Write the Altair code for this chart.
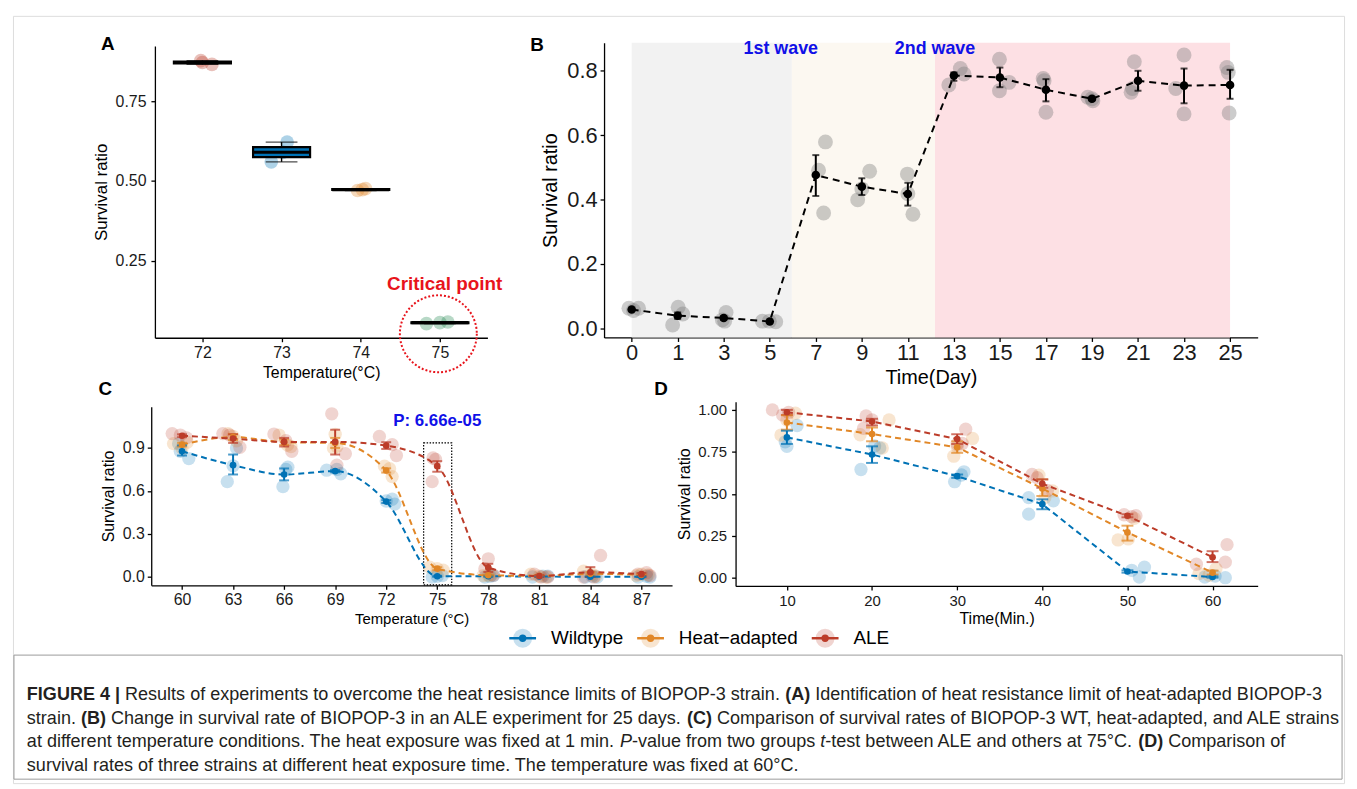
import json
import pandas as pd
import altair as alt

FONT = "Liberation Sans"
W, H = 1341, 773

# ---------------- Panel A : heat resistance limit ----------------
a_temps = ["72", "73", "74", "75"]
a_rep1 = [0.866, 0.560, 0.470, 0.052]
a_rep2 = [0.872, 0.590, 0.473, 0.055]
a_rep3 = [0.878, 0.622, 0.476, 0.057]
a_jit1 = [0.12, -0.13, -0.04, -0.17]
a_jit2 = [0.00, 0.02, 0.02, 0.00]
a_jit3 = [-0.02, 0.07, 0.06, 0.10]
a_colors = ["#BC3C29", "#0072B5", "#E18727", "#20854E"]

# ---------------- Panel B : ALE experiment ----------------
b_days = ["0", "1", "3", "5", "7", "9", "11", "13", "15", "17", "19", "21", "23", "25"]
b_mean = [0.058, 0.039, 0.032, 0.021, 0.476, 0.440, 0.417, 0.785, 0.779, 0.741, 0.713, 0.769, 0.754, 0.756]
b_lo = [0.055, 0.029, 0.026, 0.019, 0.411, 0.414, 0.381, 0.769, 0.749, 0.705, 0.708, 0.738, 0.699, 0.713]
b_hi = [0.061, 0.049, 0.038, 0.023, 0.538, 0.466, 0.452, 0.795, 0.810, 0.774, 0.718, 0.800, 0.807, 0.803]
b_rep1 = [0.062, 0.010, 0.049, 0.022, 0.579, 0.488, 0.479, 0.807, 0.836, 0.776, 0.718, 0.828, 0.849, 0.810]
b_rep2 = [0.062, 0.065, 0.026, 0.020, 0.491, 0.399, 0.354, 0.756, 0.738, 0.671, 0.707, 0.733, 0.666, 0.669]
b_rep3 = [0.055, 0.044, 0.022, 0.022, 0.358, 0.433, 0.418, 0.790, 0.764, 0.769, 0.713, 0.745, 0.745, 0.795]
b_jit1 = [-0.06, -0.11, 0.05, -0.16, 0.21, 0.17, -0.01, 0.14, -0.01, -0.06, -0.09, -0.08, 0.00, -0.07]
b_jit2 = [0.15, 0.01, -0.03, 0.13, 0.06, -0.09, 0.11, -0.11, -0.01, 0.00, 0.02, -0.15, 0.00, -0.02]
b_jit3 = [0.04, 0.11, 0.02, -0.01, 0.17, 0.00, 0.00, 0.22, 0.20, -0.04, 0.00, -0.12, -0.18, -0.04]
b_phase_start = [0.0, 3.48, 6.59]
b_phase_end = [3.48, 6.59, 13.0]
b_phase_colors = ["#f2f2f2", "#fcf8f1", "#fde0e4"]
b_wave_labels = ["1st wave", "2nd wave"]
b_wave_x = [3.24, 6.59]
b_wave_y = [0.867, 0.867]

# ---------------- Panels C and D : strains ----------------
strains = ["Wildtype", "Heat\u2212adapted", "ALE"]
strain_colors = ["#0072B5", "#E18727", "#BC3C29"]

c_temps = [60, 63, 66, 69, 72, 75, 78, 81, 84, 87]
c_wt_mean = [0.877, 0.780, 0.715, 0.738, 0.526, 0.005, 0.005, 0.003, 0.002, 0.002]
c_wt_lo = [0.847, 0.715, 0.674, 0.730, 0.516, 0.001, 0.001, 0.000, 0.000, 0.000]
c_wt_hi = [0.918, 0.854, 0.757, 0.746, 0.536, 0.009, 0.009, 0.006, 0.004, 0.004]
c_wt_rep1 = [0.826, 0.665, 0.630, 0.745, 0.530, 0.000, 0.000, 0.000, 0.000, 0.000]
c_wt_rep2 = [0.877, 0.775, 0.750, 0.720, 0.508, 0.005, 0.005, 0.005, 0.000, 0.005]
c_wt_rep3 = [0.930, 0.900, 0.766, 0.750, 0.542, 0.010, 0.010, 0.005, 0.005, 0.000]
c_wt_jit1 = [0.40, -0.34, -0.07, -0.50, 0.00, -0.30, -0.20, -0.40, -0.30, -0.20]
c_wt_jit2 = [-0.10, 0.00, 0.10, 0.33, 0.50, 0.00, 0.10, 0.20, 0.40, 0.30]
c_wt_jit3 = [-0.20, 0.20, 0.22, 0.10, 0.35, 0.30, 0.30, 0.50, 0.10, 0.50]

c_ha_mean = [0.923, 0.976, 0.940, 0.935, 0.743, 0.058, 0.012, 0.008, 0.022, 0.015]
c_ha_lo = [0.910, 0.955, 0.920, 0.900, 0.728, 0.048, 0.008, 0.004, 0.012, 0.010]
c_ha_hi = [0.936, 0.997, 0.960, 0.970, 0.758, 0.068, 0.016, 0.012, 0.032, 0.020]
c_ha_rep1 = [0.930, 1.000, 0.990, 0.995, 0.773, 0.069, 0.010, 0.020, 0.040, 0.020]
c_ha_rep2 = [0.900, 0.980, 0.920, 0.900, 0.700, 0.058, 0.015, 0.005, 0.020, 0.015]
c_ha_rep3 = [0.940, 0.950, 0.910, 0.910, 0.755, 0.047, 0.010, 0.000, 0.005, 0.010]
c_ha_jit1 = [-0.50, -0.30, -0.30, 0.00, -0.10, -0.45, -0.30, -0.50, -0.40, 0.00]
c_ha_jit2 = [0.00, 0.00, 0.20, -0.10, 0.35, 0.00, 0.20, 0.00, 0.10, 0.40]
c_ha_jit3 = [0.30, 0.20, 0.40, 0.10, 0.20, 0.35, 0.00, 0.40, 0.30, -0.30]

c_ale_mean = [0.985, 0.965, 0.942, 0.942, 0.916, 0.773, 0.065, 0.007, 0.033, 0.020]
c_ale_lo = [0.975, 0.935, 0.910, 0.854, 0.893, 0.734, 0.035, 0.000, 0.000, 0.012]
c_ale_hi = [0.995, 0.995, 0.970, 1.027, 0.940, 0.808, 0.092, 0.014, 0.069, 0.028]
c_ale_rep1 = [1.000, 1.000, 0.997, 1.138, 0.980, 0.820, 0.127, 0.020, 0.150, 0.030]
c_ale_rep2 = [0.990, 0.990, 0.877, 0.860, 0.923, 0.830, 0.058, 0.000, 0.000, 0.020]
c_ale_rep3 = [0.970, 0.905, 0.950, 0.780, 0.847, 0.665, 0.012, 0.000, 0.000, 0.010]
c_ale_jit1 = [-0.58, -0.60, -0.60, -0.20, -0.40, -0.10, 0.00, -0.30, 0.60, 0.30]
c_ale_jit2 = [-0.10, -0.20, 0.45, 0.60, 0.35, -0.25, -0.20, 0.10, -0.40, -0.20]
c_ale_jit3 = [0.26, 0.40, 0.10, 0.10, 0.60, -0.30, 0.30, 0.50, 0.20, 0.50]
c_pvalue_text = "P: 6.66e-05"

d_times = [10, 20, 30, 40, 50, 60]
d_wt_mean = [0.836, 0.734, 0.605, 0.438, 0.037, 0.004]
d_wt_lo = [0.797, 0.684, 0.595, 0.408, 0.030, 0.000]
d_wt_hi = [0.876, 0.783, 0.615, 0.467, 0.044, 0.008]
d_wt_rep1 = [0.907, 0.645, 0.572, 0.379, 0.063, 0.000]
d_wt_rep2 = [0.783, 0.773, 0.631, 0.477, 0.004, 0.004]
d_wt_rep3 = [0.810, 0.785, 0.612, 0.458, 0.044, 0.010]
d_wt_jit1 = [1.2, -1.3, -0.3, -1.6, 2.0, 1.5]
d_wt_jit2 = [0.0, 0.9, 0.8, -1.6, 1.4, -0.9]
d_wt_jit3 = [-0.2, 0.3, 0.5, 1.3, 0.5, 0.3]

d_ha_mean = [0.925, 0.856, 0.777, 0.532, 0.270, 0.030]
d_ha_lo = [0.882, 0.813, 0.744, 0.487, 0.221, 0.018]
d_ha_hi = [0.968, 0.895, 0.813, 0.586, 0.310, 0.042]
d_ha_rep1 = [0.980, 0.940, 0.724, 0.611, 0.225, 0.024]
d_ha_rep2 = [0.850, 0.852, 0.780, 0.517, 0.231, 0.014]
d_ha_rep3 = [0.940, 0.773, 0.830, 0.477, 0.354, 0.053]
d_ha_jit1 = [1.0, 2.0, -0.4, -0.4, -1.1, -1.6]
d_ha_jit2 = [-0.7, -1.4, 0.0, 1.2, 0.1, -0.4]
d_ha_jit3 = [0.0, 1.2, 1.8, 0.3, 0.8, 0.4]

d_ale_mean = [0.986, 0.931, 0.826, 0.560, 0.369, 0.122]
d_ale_lo = [0.970, 0.907, 0.797, 0.536, 0.360, 0.093]
d_ale_hi = [1.000, 0.947, 0.855, 0.586, 0.378, 0.158]
d_ale_rep1 = [1.000, 0.964, 0.885, 0.615, 0.375, 0.197]
d_ale_rep2 = [0.970, 0.940, 0.800, 0.596, 0.369, 0.093]
d_ale_rep3 = [0.985, 0.890, 0.795, 0.520, 0.363, 0.080]
d_ale_jit1 = [-1.7, -0.7, 1.0, -1.2, -0.4, 1.7]
d_ale_jit2 = [-0.5, 0.0, 0.6, -0.6, 1.0, 1.5]
d_ale_jit3 = [0.2, -1.0, 0.0, 0.6, 0.5, -1.9]

# ---------------- Caption ----------------
caption_lines = [
    [("FIGURE 4 |", "b"), (" Results of experiments to overcome the heat resistance limits of BIOPOP-3 strain. ", "n"),
     ("(A)", "b"), (" Identification of heat resistance limit of heat-adapted BIOPOP-3", "n")],
    [("strain. ", "n"), ("(B)", "b"), (" Change in survival rate of BIOPOP-3 in an ALE experiment for 25 days. ", "n"),
     ("(C)", "b"), (" Comparison of survival rates of BIOPOP-3 WT, heat-adapted, and ALE strains", "n")],
    [("at different temperature conditions. The heat exposure was fixed at 1 min. ", "n"), ("P", "i"),
     ("-value from two groups ", "n"), ("t", "i"), ("-test between ALE and others at 75\u00b0C. ", "n"),
     ("(D)", "b"), (" Comparison of", "n")],
    [("survival rates of three strains at different heat exposure time. The temperature was fixed at 60\u00b0C.", "n")],
]

# ---------------- text metrics (Arial-compatible, per 1000 em) ----------------
AR = {' ': 278, '(': 333, ')': 333, ',': 278, '-': 333, '.': 278, ':': 278, '|': 260, '\u00b0': 400, '\u2212': 584,
      'A': 667, 'B': 667, 'C': 722, 'D': 722, 'E': 667, 'F': 611, 'G': 778, 'H': 722, 'I': 278, 'J': 500, 'K': 667,
      'L': 556, 'M': 833, 'N': 722, 'O': 778, 'P': 667, 'Q': 778, 'R': 722, 'S': 667, 'T': 611, 'U': 722, 'V': 667,
      'W': 944, 'X': 667, 'Y': 667, 'Z': 611,
      'a': 556, 'b': 556, 'c': 500, 'd': 556, 'e': 556, 'f': 278, 'g': 556, 'h': 556, 'i': 222, 'j': 222, 'k': 500,
      'l': 222, 'm': 833, 'n': 556, 'o': 556, 'p': 556, 'q': 556, 'r': 333, 's': 500, 't': 278, 'u': 556, 'v': 500,
      'w': 722, 'x': 500, 'y': 500, 'z': 500}
AB = {' ': 278, '(': 333, ')': 333, '|': 280, '4': 556, 'A': 722, 'B': 722, 'C': 722, 'D': 722, 'E': 667, 'F': 611,
      'G': 778, 'I': 278, 'R': 722, 'U': 722}


def em(s, bold=False):
    tot = 0
    for ch in s:
        if bold and ch in AB:
            tot += AB[ch]
        else:
            tot += AR.get(ch, 556)
    return tot / 1000.0


# ---------------- helpers ----------------
def axis(orient, offset, values, title, lsize, tsize, lpad, tpad, fmt=None, lexpr=None):
    kw = dict(orient=orient, offset=offset, values=values, title=title,
              labelFontSize=lsize, titleFontSize=tsize, labelPadding=lpad, titlePadding=tpad,
              grid=False, labelFlush=False, labelOverlap=False, labelBound=False,
              domainColor="black", domainWidth=1.3, tickColor="black", tickWidth=1.3, tickSize=4,
              labelColor="#1a1a1a", titleColor="black", labelFont=FONT, titleFont=FONT,
              titleFontWeight="normal")
    if fmt:
        kw["format"] = fmt
    if lexpr:
        kw["labelExpr"] = lexpr
    return alt.Axis(**kw)


def scale(domain, rng):
    return alt.Scale(domain=domain, range=rng, nice=False, zero=False)


COL = alt.Color("col:N", scale=None)

# ================= Panel A =================
A_XS = scale([-0.6, 3.6], [143, 478])
A_YS = scale([0.0075, 0.924], [324.3, 30.3])
A_XA = axis("bottom", 324.3 - H, [0, 1, 2, 3], "Temperature(\u00b0C)", 16, 16, 3, 4,
            lexpr=json.dumps(a_temps) + "[datum.value]")
A_YA = axis("left", -143, [0.25, 0.5, 0.75], "Survival ratio", 16, 17, 5, 5, fmt=".2f")


def AX(f):
    return alt.X(f, scale=A_XS, axis=A_XA)


def AY(f):
    return alt.Y(f, scale=A_YS, axis=A_YA)


a_rows = []
for i, t in enumerate(a_temps):
    for reps, jits in ((a_rep1, a_jit1), (a_rep2, a_jit2), (a_rep3, a_jit3)):
        a_rows.append(dict(idx=i, temp=t, xj=i + jits[i], v=reps[i], col=a_colors[i]))
a_df = pd.DataFrame(a_rows)
a_base = alt.Chart(a_df)
a_stats = a_base.transform_aggregate(
    lo="min(v)", q1="q1(v)", med="median(v)", q3="q3(v)", hi="max(v)", groupby=["idx", "col"]
).transform_calculate(xl="datum.idx - 0.36", xr="datum.idx + 0.36")

a_pts = a_base.mark_circle(size=190, opacity=0.32).encode(x=AX("xj:Q"), y=AY("v:Q"), color=COL)
a_whisk = a_stats.mark_rule(color="black", strokeWidth=1.4).encode(x=AX("idx:Q"), y=AY("lo:Q"), y2="hi:Q")
a_cap1 = a_stats.mark_tick(orient="horizontal", color="black", size=32, thickness=1.4).encode(
    x=AX("idx:Q"), y=AY("lo:Q"))
a_cap2 = a_stats.mark_tick(orient="horizontal", color="black", size=32, thickness=1.4).encode(
    x=AX("idx:Q"), y=AY("hi:Q"))
a_box = a_stats.mark_rect(stroke="black", strokeWidth=2.2).encode(
    x=AX("xl:Q"), x2="xr:Q", y=AY("q1:Q"), y2="q3:Q", color=COL)
a_med = a_stats.mark_rule(color="black", strokeWidth=3.2).encode(x=AX("xl:Q"), x2="xr:Q", y=AY("med:Q"))
a_ann_df = pd.DataFrame({"x": [3.06], "y": [0.177], "t": ["Critical point"], "cx": [2.98], "cy": [0.02]})
a_text = alt.Chart(a_ann_df).mark_text(font=FONT, fontSize=19, fontWeight="bold", color="#e8141c").encode(
    x=AX("x:Q"), y=AY("y:Q"), text="t:N")
a_circ = alt.Chart(a_ann_df).mark_point(shape="circle", size=6006, color="#e8141c", strokeWidth=2,
                                        strokeDash=[2, 2], opacity=1).encode(x=AX("cx:Q"), y=AY("cy:Q"))
panelA = alt.layer(a_pts, a_whisk, a_cap1, a_cap2, a_box, a_med, a_text, a_circ).resolve_scale(
    x="shared", y="shared")

# ================= Panel B =================
B_XS = scale([-0.6, 13.6], [595.5, 1254])
B_YS = scale([-0.0287, 0.8874], [324, 27])
B_XA = axis("bottom", 324 - H, list(range(len(b_days))), "Time(Day)", 22, 20, 1.5, 3.5,
            lexpr=json.dumps(b_days) + "[datum.value]")
B_YA = axis("left", -595.5, [0, 0.2, 0.4, 0.6, 0.8], "Survival ratio", 22, 20, 3, 6, fmt=".1f")


def BX(f):
    return alt.X(f, scale=B_XS, axis=B_XA)


def BY(f):
    return alt.Y(f, scale=B_YS, axis=B_YA)


b_bg_df = pd.DataFrame({"x0": b_phase_start, "x1": b_phase_end, "col": b_phase_colors,
                        "y0": [-0.0287] * 3, "y1": [0.8874] * 3})
b_sum_df = pd.DataFrame({"idx": list(range(len(b_days))), "mean": b_mean, "lo": b_lo, "hi": b_hi})
b_rows = []
for reps, jits in ((b_rep1, b_jit1), (b_rep2, b_jit2), (b_rep3, b_jit3)):
    for i in range(len(b_days)):
        b_rows.append(dict(xj=i + jits[i], v=reps[i]))
b_rep_df = pd.DataFrame(b_rows)
b_txt_df = pd.DataFrame({"x": b_wave_x, "y": b_wave_y, "t": b_wave_labels})

b_bg = alt.Chart(b_bg_df).mark_rect().encode(x=BX("x0:Q"), x2="x1:Q", y=BY("y0:Q"), y2="y1:Q", color=COL)
b_pts = alt.Chart(b_rep_df).mark_circle(size=225, color="#7f7f7f", opacity=0.4).encode(
    x=BX("xj:Q"), y=BY("v:Q"))
b_sum = alt.Chart(b_sum_df)
b_line = b_sum.mark_line(color="black", strokeWidth=2, strokeDash=[7, 5]).encode(x=BX("idx:Q"), y=BY("mean:Q"))
b_err = b_sum.mark_rule(color="black", strokeWidth=2).encode(x=BX("idx:Q"), y=BY("lo:Q"), y2="hi:Q")
b_cap1 = b_sum.mark_tick(orient="horizontal", color="black", size=7, thickness=2).encode(x=BX("idx:Q"), y=BY("lo:Q"))
b_cap2 = b_sum.mark_tick(orient="horizontal", color="black", size=7, thickness=2).encode(x=BX("idx:Q"), y=BY("hi:Q"))
b_dot = b_sum.mark_circle(size=75, color="black", opacity=1).encode(x=BX("idx:Q"), y=BY("mean:Q"))
b_txt = alt.Chart(b_txt_df).mark_text(font=FONT, fontSize=18, fontWeight="bold", color="#1010e8").encode(
    x=BX("x:Q"), y=BY("y:Q"), text="t:N")
panelB = alt.layer(b_bg, b_pts, b_line, b_err, b_cap1, b_cap2, b_dot, b_txt).resolve_scale(x="shared", y="shared")


# ================= Panels C & D =================
def strain_frames(xs, groups):
    rep_rows, sum_rows = [], []
    for (name, colr, mean, lo, hi, reps, jits) in groups:
        for i, x in enumerate(xs):
            sum_rows.append(dict(x=x, mean=mean[i], lo=lo[i], hi=hi[i], strain=name, col=colr))
        for r, j in zip(reps, jits):
            for i, x in enumerate(xs):
                rep_rows.append(dict(xj=x + j[i], v=r[i], strain=name, col=colr))
    return pd.DataFrame(rep_rows), pd.DataFrame(sum_rows)


def strain_layers(rep_df, sum_df, XF, YF, cap, interp, rep_size, dot_size):
    s = alt.Chart(sum_df)
    pts = alt.Chart(rep_df).mark_circle(size=rep_size, opacity=0.22).encode(x=XF("xj:Q"), y=YF("v:Q"), color=COL)
    line = s.mark_line(strokeWidth=2, strokeDash=[6, 4], interpolate=interp).encode(
        x=XF("x:Q"), y=YF("mean:Q"), color=COL, detail="strain:N")
    err = s.mark_rule(strokeWidth=2).encode(x=XF("x:Q"), y=YF("lo:Q"), y2="hi:Q", color=COL)
    c1 = s.mark_tick(orient="horizontal", size=cap, thickness=2).encode(x=XF("x:Q"), y=YF("lo:Q"), color=COL)
    c2 = s.mark_tick(orient="horizontal", size=cap, thickness=2).encode(x=XF("x:Q"), y=YF("hi:Q"), color=COL)
    dot = s.mark_circle(size=dot_size, opacity=1).encode(x=XF("x:Q"), y=YF("mean:Q"), color=COL)
    return pts, line, err, c1, c2, dot


C_XS = scale([58.19, 88.8], [139.3, 664])
C_YS = scale([-0.058, 1.188], [573.7, 393.7])
C_XA = axis("bottom", 573.7 - H, c_temps, "Temperature (\u00b0C)", 16, 15, 2.3, 4)
C_YA = axis("left", -139.3, [0, 0.3, 0.6, 0.9], "Survival ratio", 16, 16, 3, 6, fmt=".1f")


def CX(f):
    return alt.X(f, scale=C_XS, axis=C_XA)


def CY(f):
    return alt.Y(f, scale=C_YS, axis=C_YA)


c_groups = [
    (strains[0], strain_colors[0], c_wt_mean, c_wt_lo, c_wt_hi, [c_wt_rep1, c_wt_rep2, c_wt_rep3],
     [c_wt_jit1, c_wt_jit2, c_wt_jit3]),
    (strains[1], strain_colors[1], c_ha_mean, c_ha_lo, c_ha_hi, [c_ha_rep1, c_ha_rep2, c_ha_rep3],
     [c_ha_jit1, c_ha_jit2, c_ha_jit3]),
    (strains[2], strain_colors[2], c_ale_mean, c_ale_lo, c_ale_hi, [c_ale_rep1, c_ale_rep2, c_ale_rep3],
     [c_ale_jit1, c_ale_jit2, c_ale_jit3]),
]
c_rep_df, c_sum_df = strain_frames(c_temps, c_groups)
c_pts, c_line, c_err, c_c1, c_c2, c_dot = strain_layers(c_rep_df, c_sum_df, CX, CY, 10, "monotone", 180, 45)
c_box_df = pd.DataFrame({"x0": [74.2], "x1": [75.85], "y0": [-0.055], "y1": [0.935],
                         "tx": [75.0], "ty": [1.09], "t": [c_pvalue_text]})
c_box = alt.Chart(c_box_df).mark_rect(fillOpacity=0, stroke="black", strokeWidth=1.2, strokeDash=[1.5, 1.5]).encode(
    x=CX("x0:Q"), x2="x1:Q", y=CY("y0:Q"), y2="y1:Q")
c_ptxt = alt.Chart(c_box_df).mark_text(font=FONT, fontSize=17, fontWeight="bold", color="#1010e8").encode(
    x=CX("tx:Q"), y=CY("ty:Q"), text="t:N")
panelC = alt.layer(c_pts, c_box, c_line, c_err, c_c1, c_c2, c_dot, c_ptxt).resolve_scale(x="shared", y="shared")

D_XS = scale([3.97, 65.3], [728, 1254])
D_YS = scale([-0.049, 1.049], [574.3, 388.7])
D_XA = axis("bottom", 574.3 - H, d_times, "Time(Min.)", 15, 16, 3.7, 2.5)
D_YA = axis("left", -728, [0, 0.25, 0.5, 0.75, 1.0], "Survival ratio", 15, 16, 5, 5.7, fmt=".2f")


def DX(f):
    return alt.X(f, scale=D_XS, axis=D_XA)


def DY(f):
    return alt.Y(f, scale=D_YS, axis=D_YA)


d_groups = [
    (strains[0], strain_colors[0], d_wt_mean, d_wt_lo, d_wt_hi, [d_wt_rep1, d_wt_rep2, d_wt_rep3],
     [d_wt_jit1, d_wt_jit2, d_wt_jit3]),
    (strains[1], strain_colors[1], d_ha_mean, d_ha_lo, d_ha_hi, [d_ha_rep1, d_ha_rep2, d_ha_rep3],
     [d_ha_jit1, d_ha_jit2, d_ha_jit3]),
    (strains[2], strain_colors[2], d_ale_mean, d_ale_lo, d_ale_hi, [d_ale_rep1, d_ale_rep2, d_ale_rep3],
     [d_ale_jit1, d_ale_jit2, d_ale_jit3]),
]
d_rep_df, d_sum_df = strain_frames(d_times, d_groups)
d_layers = strain_layers(d_rep_df, d_sum_df, DX, DY, 12, "linear", 180, 45)
panelD = alt.layer(*d_layers).resolve_scale(x="shared", y="shared")

# ================= Annotations (panel letters, legend, caption) =================
PX = lambda f: alt.X(f, scale=None, axis=None)
PY = lambda f: alt.Y(f, scale=None, axis=None)

letters_df = pd.DataFrame({"t": ["A", "B", "C", "D"], "px": [95.5, 528, 93, 653], "py": [28, 29.5, 376, 375.5]})
letters = alt.Chart(letters_df).mark_text(font=FONT, fontSize=19, fontWeight="bold", color="black").encode(
    x=PX("px:Q"), y=PY("py:Q"), text="t:N")

# legend
LEG_FS = 19
leg_rows = []
xcur = 513.5
for s, c in zip(strains, strain_colors):
    leg_rows.append(dict(t=s, col=c, sx=xcur, sx1=xcur - 13.5, sx2=xcur + 13.5, tx=xcur + 28.5, py=627))
    xcur = xcur + 28.5 + em(s) * LEG_FS + 27.5
leg_df = pd.DataFrame(leg_rows)
leg_base = alt.Chart(leg_df)
leg_halo = leg_base.mark_circle(size=360, opacity=0.22).encode(x=PX("sx:Q"), y=PY("py:Q"), color=COL)
leg_line = leg_base.mark_rule(strokeWidth=2.5).encode(x=PX("sx1:Q"), x2="sx2:Q", y=PY("py:Q"), color=COL)
leg_dot = leg_base.mark_circle(size=55, opacity=1).encode(x=PX("sx:Q"), y=PY("py:Q"), color=COL)
leg_txt = leg_base.mark_text(font=FONT, fontSize=LEG_FS, align="left", baseline="middle", color="black").encode(
    x=PX("tx:Q"), y=PY("py:Q"), text="t:N")

# caption
CAP_X0, CAP_W = 14, 1305
line1_em = sum(em(t, st == "b") for t, st in caption_lines[0])
CAP_FS = CAP_W / line1_em
cap_rows = {"n": [], "b": [], "i": []}
for li, segs in enumerate(caption_lines):
    xcur = CAP_X0
    for t, st in segs:
        lead = len(t) - len(t.lstrip(" "))
        cap_rows[st].append(dict(t=t.strip(" "), px=xcur + em(" " * lead) * CAP_FS, py=684 + 24 * li))
        xcur += em(t, st == "b") * CAP_FS
cap_layers = []
for st, kw in (("n", {}), ("b", {"fontWeight": "bold"}), ("i", {"fontStyle": "italic"})):
    cap_layers.append(alt.Chart(pd.DataFrame(cap_rows[st])).mark_text(
        font=FONT, fontSize=CAP_FS, align="left", baseline="middle", color="#231f20", **kw).encode(
        x=PX("px:Q"), y=PY("py:Q"), text="t:N"))
frame_df = pd.DataFrame({"x0": [1], "x1": [1339], "y0": [644], "y1": [769]})
frame = alt.Chart(frame_df).mark_rect(fillOpacity=0, stroke="#9a9a9a", strokeWidth=1).encode(
    x=PX("x0:Q"), x2="x1:Q", y=PY("y0:Q"), y2="y1:Q")

chart = alt.layer(
    panelA, panelB, panelC, panelD, letters, leg_halo, leg_line, leg_dot, leg_txt, frame, *cap_layers
).resolve_scale(x="independent", y="independent").properties(width=W, height=H).configure_view(
    stroke=None).configure(font=FONT, background="white")

chart.save("out.html", embed_options={"renderer": "svg", "actions": False})
